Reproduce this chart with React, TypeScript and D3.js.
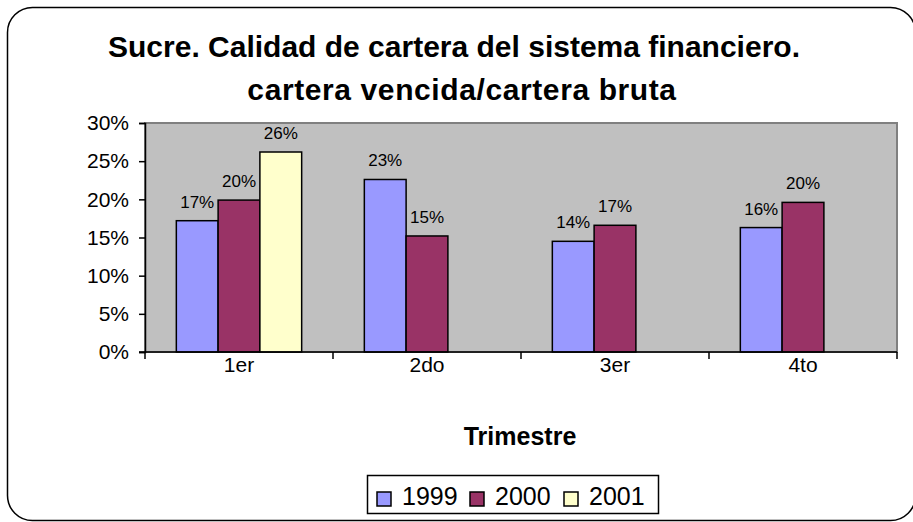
import React, { useEffect, useRef } from 'react';
import * as d3 from 'd3';

// quarters on the x axis
const categories = ['1er', '2do', '3er', '4to'];
const years = ['1999', '2000', '2001'];
// cartera vencida / cartera bruta, per year
const values1999 = [0.172, 0.226, 0.145, 0.163];
const values2000 = [0.199, 0.152, 0.166, 0.196];
const values2001 = [0.262, null, null, null];
const yTicks = [0, 0.05, 0.1, 0.15, 0.2, 0.25, 0.3];
const colors = ['#9999FF', '#993366', '#FFFFCC'];

const W = 913;
const H = 522;
const FONT = 'Arial, "Liberation Sans", Helvetica, sans-serif';

export default function App() {
  const ref = useRef<SVGSVGElement>(null);

  useEffect(() => {
    const svg = d3.select(ref.current);
    svg.selectAll('*').remove();

    const left = 145, right = 897, top = 123, bottom = 352;
    const series = [values1999, values2000, values2001];

    // outer rounded frame
    svg.append('rect')
      .attr('x', 7.5).attr('y', 7.5)
      .attr('width', 908).attr('height', 513)
      .attr('rx', 25).attr('ry', 25)
      .attr('fill', '#fff').attr('stroke', '#000').attr('stroke-width', 1.5);

    // title
    const title = svg.append('text')
      .attr('text-anchor', 'middle')
      .attr('font-family', FONT).attr('font-weight', 'bold')
      .attr('font-size', 30).attr('fill', '#000');
    title.append('tspan').attr('x', 454).attr('y', 57)
      .text('Sucre. Calidad de cartera del sistema financiero.');
    title.append('tspan').attr('x', 462).attr('y', 100).attr('letter-spacing', 0.6)
      .text('cartera vencida/cartera bruta');

    const x0 = d3.scaleBand<string>().domain(categories).range([left, right]);
    const x1 = d3.scaleBand<string>().domain(years)
      .range([0, x0.bandwidth()]).paddingInner(0).paddingOuter(0.75);
    const y = d3.scaleLinear().domain([0, 0.3]).range([bottom, top]);

    // plot area
    svg.append('rect')
      .attr('x', left).attr('y', top)
      .attr('width', right - left).attr('height', bottom - top)
      .attr('fill', '#C0C0C0').attr('stroke', '#808080').attr('stroke-width', 2);

    // bars
    years.forEach((yr, si) => {
      const g = svg.append('g');
      categories.forEach((c, ci) => {
        const v = series[si][ci];
        if (v == null) return;
        const bx = (x0(c) as number) + (x1(yr) as number);
        g.append('rect')
          .attr('x', bx).attr('y', y(v))
          .attr('width', x1.bandwidth()).attr('height', y(0) - y(v))
          .attr('fill', colors[si]).attr('stroke', '#000').attr('stroke-width', 1.5);
        g.append('text')
          .attr('x', bx + x1.bandwidth() / 2).attr('y', y(v) - 13)
          .attr('text-anchor', 'middle')
          .attr('font-family', FONT).attr('font-size', 17).attr('fill', '#000')
          .text(d3.format('.0%')(v));
      });
    });

    // y axis
    const yAxis = svg.append('g').attr('transform', `translate(${left},0)`)
      .call(d3.axisLeft(y).tickValues(yTicks).tickFormat(d3.format('.0%')).tickSize(6).tickPadding(10));
    yAxis.select('.domain').attr('stroke', '#000').attr('stroke-width', 1.5);
    yAxis.selectAll('line').attr('stroke', '#000').attr('stroke-width', 1.5);
    yAxis.selectAll('text').attr('font-family', FONT).attr('font-size', 21).attr('fill', '#000');

    // x axis: ticks on category boundaries
    const xAxis = svg.append('g').attr('transform', `translate(0,${bottom})`);
    xAxis.append('line').attr('x1', left - 6).attr('x2', right)
      .attr('stroke', '#000').attr('stroke-width', 1.5);
    const bounds = categories.map(c => x0(c) as number).concat([right]);
    xAxis.selectAll('line.tick').data(bounds).enter().append('line')
      .attr('class', 'tick')
      .attr('x1', d => d).attr('x2', d => d).attr('y1', 0).attr('y2', 7)
      .attr('stroke', '#000').attr('stroke-width', 1.5);
    xAxis.selectAll('text').data(categories).enter().append('text')
      .attr('x', d => (x0(d) as number) + x0.bandwidth() / 2)
      .attr('y', 20)
      .attr('text-anchor', 'middle')
      .attr('font-family', FONT).attr('font-size', 21).attr('fill', '#000')
      .text(d => d);

    svg.append('text')
      .attr('x', 520).attr('y', 445)
      .attr('text-anchor', 'middle')
      .attr('font-family', FONT).attr('font-weight', 'bold').attr('font-size', 25)
      .text('Trimestre');

    // legend
    const lg = svg.append('g');
    lg.append('rect').attr('x', 367.5).attr('y', 475.5).attr('width', 291).attr('height', 38)
      .attr('fill', '#fff').attr('stroke', '#000').attr('stroke-width', 1.5);
    const itemX = [377, 470, 564];
    years.forEach((yr, i) => {
      lg.append('rect').attr('x', itemX[i]).attr('y', 492).attr('width', 14).attr('height', 14)
        .attr('fill', colors[i]).attr('stroke', '#000').attr('stroke-width', 1.5);
      lg.append('text').attr('x', itemX[i] + 25).attr('y', 505)
        .attr('font-family', FONT).attr('font-size', 25).attr('fill', '#000')
        .text(yr);
    });
  }, []);

  return (
    <svg ref={ref} width={W} height={H}
      style={{ position: 'absolute', left: 0, top: 0, background: '#fff' }} />
  );
}
